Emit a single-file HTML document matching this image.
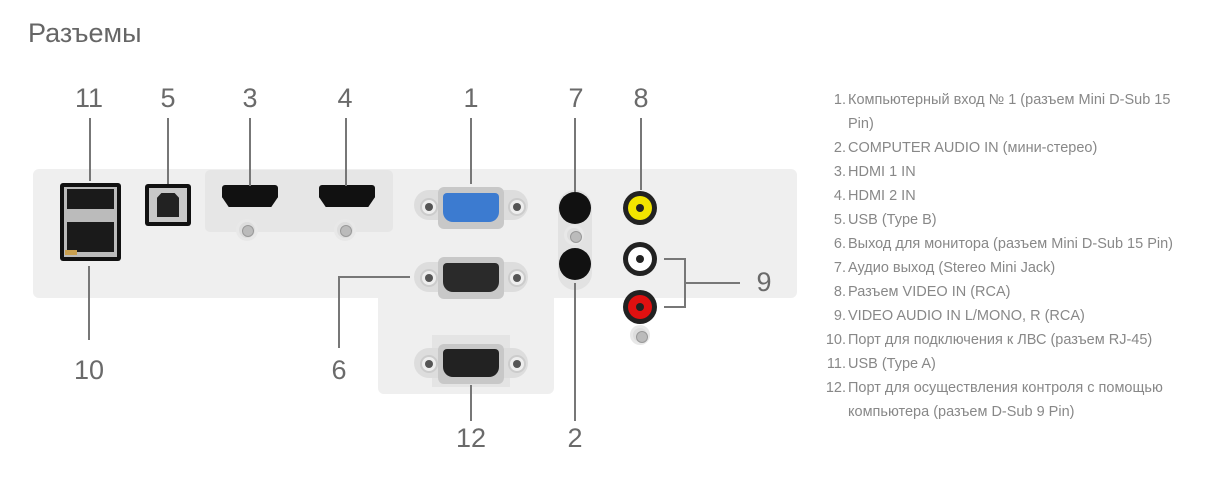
<!DOCTYPE html>
<html><head><meta charset="utf-8"><style>
body{margin:0;width:1226px;height:488px;background:#fff;position:relative;overflow:hidden;font-family:"Liberation Sans","DejaVu Sans",sans-serif}
.a{position:absolute}
.n{position:absolute;font-size:27px;color:#6a6a6a;transform:translateX(-50%)}
.v{position:absolute;width:2px;background:#777}
.h{position:absolute;height:2px;background:#777}
.list{position:absolute;left:0;top:88px;font-size:14.5px;color:#888;line-height:24px;margin:0;padding:0;list-style:none}
.list li{position:relative;padding-left:848px;width:336px}
.list li span{position:absolute;right:calc(100% - 846px);top:0}
.scr{position:absolute;width:22px;height:22px;border-radius:50%;background:#ddd;border:3px solid #e8e8e8;box-sizing:border-box}
.scr:after{content:"";position:absolute;left:3px;top:3px;width:10px;height:10px;border-radius:50%;background:#bbb;border:1px solid #999}
.hdmi{position:absolute;width:56px;height:22px;background:#111;clip-path:polygon(0 0,100% 0,100% 55%,88% 100%,12% 100%,0 55%);border-radius:3px}
.dsub{position:absolute;border-radius:6px}
.sh{position:absolute;width:14px;height:14px;border-radius:50%;background:#eee;border:2px solid #ccc}
.sh:after{content:"";position:absolute;left:3px;top:3px;width:8px;height:8px;border-radius:50%;background:#555}
.jack{position:absolute;width:32px;height:32px;border-radius:50%;background:#111}
.rca{position:absolute;width:34px;height:34px;border-radius:50%;background:#222}
.rca i{position:absolute;left:5px;top:5px;width:24px;height:24px;border-radius:50%}
.rca b{position:absolute;left:13px;top:13px;width:8px;height:8px;border-radius:50%;background:#222}
</style></head><body>
<div class="a" style="left:28px;top:18px;font-size:27px;color:#666">Разъемы</div>

<div class="a" style="left:33px;top:169px;width:764px;height:129px;background:#efefef;border-radius:6px"></div>
<div class="a" style="left:378px;top:290px;width:176px;height:104px;background:#efefef;border-radius:0 0 6px 6px"></div>
<div class="a" style="left:205px;top:170px;width:188px;height:62px;background:#e6e6e6;border-radius:5px"></div>

<div class="a" style="left:60px;top:183px;width:61px;height:78px;background:#111;border-radius:3px"></div>
<div class="a" style="left:64px;top:187px;width:53px;height:70px;background:#bbb"></div>
<div class="a" style="left:67px;top:189px;width:47px;height:20px;background:#1a1a1a"></div>
<div class="a" style="left:67px;top:222px;width:47px;height:30px;background:#1a1a1a"></div>
<div class="a" style="left:65px;top:250px;width:12px;height:5px;background:#c9a050"></div>
<div class="a" style="left:145px;top:184px;width:46px;height:42px;background:#111;border-radius:3px"></div>
<div class="a" style="left:149px;top:188px;width:38px;height:34px;background:#c8c8c8"></div>
<div class="a" style="left:157px;top:193px;width:22px;height:24px;background:#222;clip-path:polygon(20% 0,80% 0,100% 20%,100% 100%,0 100%,0 20%)"></div>
<div class="hdmi" style="left:222px;top:185px"></div>
<div class="hdmi" style="left:319px;top:185px"></div>
<div class="scr" style="left:236px;top:219px"></div>
<div class="scr" style="left:334px;top:219px"></div>

<div class="a" style="left:414px;top:190px;width:114px;height:30px;background:#ddd;border-radius:15px"></div>
<div class="dsub" style="left:438px;top:187px;width:66px;height:42px;background:#c8c8c8"></div>
<div class="dsub" style="left:443px;top:193px;width:56px;height:29px;background:#3c7bd0;border-radius:4px 4px 10px 10px"></div>
<div class="sh" style="left:420px;top:198px"></div><div class="sh" style="left:508px;top:198px"></div>
<div class="a" style="left:414px;top:262px;width:114px;height:30px;background:#ddd;border-radius:15px"></div>
<div class="dsub" style="left:438px;top:257px;width:66px;height:42px;background:#c8c8c8"></div>
<div class="dsub" style="left:443px;top:263px;width:56px;height:29px;background:#2a2a2a;border-radius:4px 4px 10px 10px"></div>
<div class="sh" style="left:420px;top:269px"></div><div class="sh" style="left:508px;top:269px"></div>
<div class="a" style="left:432px;top:335px;width:78px;height:52px;background:#e4e4e4"></div>
<div class="a" style="left:414px;top:348px;width:114px;height:30px;background:#ddd;border-radius:15px"></div>
<div class="dsub" style="left:438px;top:344px;width:66px;height:40px;background:#c8c8c8"></div>
<div class="dsub" style="left:443px;top:349px;width:56px;height:28px;background:#222;border-radius:4px 4px 10px 10px"></div>
<div class="sh" style="left:420px;top:355px"></div><div class="sh" style="left:508px;top:355px"></div>

<div class="a" style="left:558px;top:190px;width:34px;height:100px;background:#e2e2e2;border-radius:17px"></div>
<div class="jack" style="left:559px;top:192px"></div>
<div class="jack" style="left:559px;top:248px"></div>
<div class="scr" style="left:564px;top:225px;width:20px;height:20px"></div>

<div class="rca" style="left:623px;top:191px"><i style="background:#f2e400"></i><b></b></div>
<div class="rca" style="left:623px;top:242px"><i style="background:#fff"></i><b></b></div>
<div class="rca" style="left:623px;top:290px"><i style="background:#e01010"></i><b></b></div>
<div class="scr" style="left:630px;top:325px;width:20px;height:20px"></div>

<div class="v" style="left:89px;top:118px;height:63px"></div>
<div class="v" style="left:167px;top:118px;height:66px"></div>
<div class="v" style="left:249px;top:118px;height:68px"></div>
<div class="v" style="left:345px;top:118px;height:68px"></div>
<div class="v" style="left:470px;top:118px;height:66px"></div>
<div class="v" style="left:574px;top:118px;height:74px"></div>
<div class="v" style="left:640px;top:118px;height:72px"></div>
<div class="v" style="left:88px;top:266px;height:74px"></div>
<div class="v" style="left:338px;top:276px;height:72px"></div>
<div class="h" style="left:338px;top:276px;width:72px"></div>
<div class="v" style="left:470px;top:385px;height:36px"></div>
<div class="v" style="left:574px;top:283px;height:138px"></div>
<div class="v" style="left:684px;top:258px;height:50px"></div>
<div class="h" style="left:664px;top:258px;width:21px"></div>
<div class="h" style="left:664px;top:306px;width:21px"></div>
<div class="h" style="left:684px;top:282px;width:56px"></div>

<div class="n" style="left:89px;top:83px">11</div>
<div class="n" style="left:168px;top:83px">5</div>
<div class="n" style="left:250px;top:83px">3</div>
<div class="n" style="left:345px;top:83px">4</div>
<div class="n" style="left:471px;top:83px">1</div>
<div class="n" style="left:576px;top:83px">7</div>
<div class="n" style="left:641px;top:83px">8</div>
<div class="n" style="left:764px;top:267px">9</div>
<div class="n" style="left:89px;top:355px">10</div>
<div class="n" style="left:339px;top:355px">6</div>
<div class="n" style="left:471px;top:423px">12</div>
<div class="n" style="left:575px;top:423px">2</div>

<ol class="list">
<li><span>1.</span>Компьютерный вход № 1 (разъем Mini D-Sub 15 Pin)</li>
<li><span>2.</span>COMPUTER AUDIO IN (мини-стерео)</li>
<li><span>3.</span>HDMI 1 IN</li>
<li><span>4.</span>HDMI 2 IN</li>
<li><span>5.</span>USB (Type B)</li>
<li><span>6.</span>Выход для монитора (разъем Mini D-Sub 15 Pin)</li>
<li><span>7.</span>Аудио выход (Stereo Mini Jack)</li>
<li><span>8.</span>Разъем VIDEO IN (RCA)</li>
<li><span>9.</span>VIDEO AUDIO IN L/MONO, R (RCA)</li>
<li><span>10.</span>Порт для подключения к ЛВС (разъем RJ-45)</li>
<li><span>11.</span>USB (Type A)</li>
<li><span>12.</span>Порт для осуществления контроля с помощью компьютера (разъем D-Sub 9 Pin)</li>
</ol>
</body></html>
